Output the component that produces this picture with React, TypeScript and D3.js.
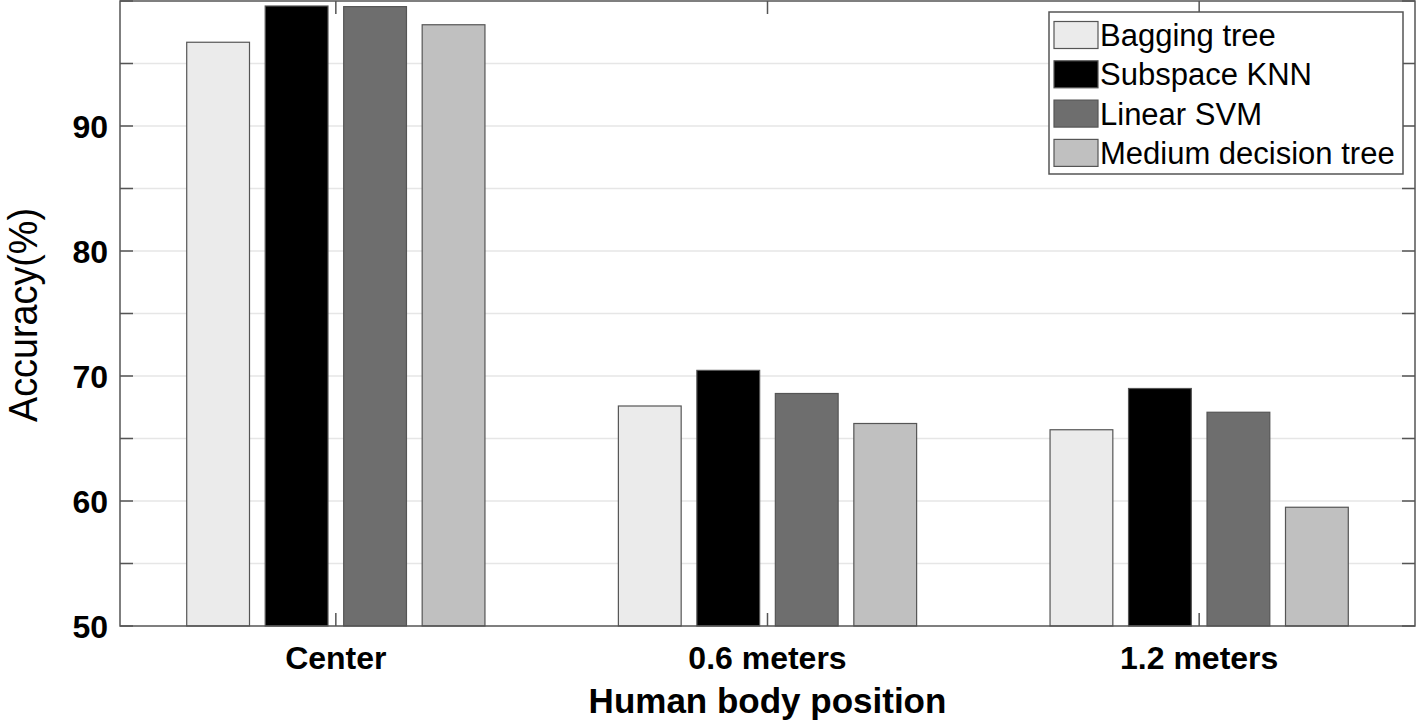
import React, { useRef, useEffect } from 'react';
import * as d3 from 'd3';

const categories = ['Center', '0.6 meters', '1.2 meters'];
const seriesNames = ['Bagging tree', 'Subspace KNN', 'Linear SVM', 'Medium decision tree'];
const seriesColors = ['#ebebeb', '#000000', '#6e6e6e', '#c0c0c0'];
// values per series, one per category
const baggingTree = [96.7, 67.6, 65.7];
const subspaceKnn = [99.6, 70.45, 69.0];
const linearSvm = [99.55, 68.6, 67.1];
const mediumTree = [98.1, 66.2, 59.5];
const yTicks = [50, 55, 60, 65, 70, 75, 80, 85, 90, 95, 100];
const yLabels = [50, 60, 70, 80, 90];

const App: React.FC = () => {
  const ref = useRef<SVGSVGElement>(null);

  useEffect(() => {
    document.body.style.margin = '0';
    const width = 1416;
    const height = 727;
    const left = 120;
    const right = 1415;
    const top = 1;
    const bottom = 626;
    const font = '"Liberation Sans", Arial, sans-serif';
    const axisColor = '#555';

    const svg = d3.select(ref.current);
    svg.selectAll('*').remove();
    svg.attr('width', width).attr('height', height);

    const x0 = d3.scaleBand<string>().domain(categories).range([left, right]).padding(0);
    const gw = x0.bandwidth() * (4 / 5.5);
    const x1 = d3
      .scaleBand<string>()
      .domain(seriesNames)
      .range([0, gw])
      .paddingInner(0.2)
      .paddingOuter(0.1);
    const y = d3.scaleLinear().domain([50, 100]).range([bottom, top]);

    // grid
    svg
      .append('g')
      .selectAll('line')
      .data(yTicks.slice(1, -1))
      .enter()
      .append('line')
      .attr('x1', left)
      .attr('x2', right)
      .attr('y1', (d) => y(d))
      .attr('y2', (d) => y(d))
      .attr('stroke', '#e6e6e6')
      .attr('stroke-width', 1.5);

    const series = [baggingTree, subspaceKnn, linearSvm, mediumTree];
    series.forEach((vals, si) => {
      svg
        .append('g')
        .selectAll('rect')
        .data(vals)
        .enter()
        .append('rect')
        .attr('x', (_, ci) => x0(categories[ci])! + x0.bandwidth() / 2 - gw / 2 + x1(seriesNames[si])!)
        .attr('y', (d) => y(d))
        .attr('width', x1.bandwidth())
        .attr('height', (d) => bottom - y(d))
        .attr('fill', seriesColors[si])
        .attr('stroke', '#555')
        .attr('stroke-width', 1.2);
    });

    // frame
    svg
      .append('rect')
      .attr('x', left)
      .attr('y', top)
      .attr('width', right - left)
      .attr('height', bottom - top)
      .attr('fill', 'none')
      .attr('stroke', axisColor)
      .attr('stroke-width', 1.5);

    // y ticks left and right, x ticks bottom and top
    const ticks = svg.append('g').attr('stroke', axisColor).attr('stroke-width', 1.5);
    yTicks.forEach((t) => {
      ticks.append('line').attr('x1', left).attr('x2', left + 13).attr('y1', y(t)).attr('y2', y(t));
      ticks.append('line').attr('x1', right - 13).attr('x2', right).attr('y1', y(t)).attr('y2', y(t));
    });
    categories.forEach((c) => {
      const cx = x0(c)! + x0.bandwidth() / 2;
      ticks.append('line').attr('x1', cx).attr('x2', cx).attr('y1', bottom).attr('y2', bottom - 13);
      ticks.append('line').attr('x1', cx).attr('x2', cx).attr('y1', top).attr('y2', top + 13);
    });

    svg
      .append('g')
      .selectAll('text')
      .data(yLabels)
      .enter()
      .append('text')
      .attr('x', 108)
      .attr('y', (d) => y(d))
      .attr('dy', '0.36em')
      .attr('text-anchor', 'end')
      .attr('font-family', font)
      .attr('font-weight', 'bold')
      .attr('font-size', 32)
      .text((d) => d);

    svg
      .append('g')
      .selectAll('text')
      .data(categories)
      .enter()
      .append('text')
      .attr('x', (d) => x0(d)! + x0.bandwidth() / 2)
      .attr('y', 669)
      .attr('text-anchor', 'middle')
      .attr('font-family', font)
      .attr('font-weight', 'bold')
      .attr('font-size', 32)
      .text((d) => d);

    svg
      .append('text')
      .attr('x', (left + right) / 2)
      .attr('y', 713)
      .attr('text-anchor', 'middle')
      .attr('font-family', font)
      .attr('font-weight', 'bold')
      .attr('font-size', 35)
      .text('Human body position');

    svg
      .append('text')
      .attr('transform', `translate(37, 315) rotate(-90)`)
      .attr('text-anchor', 'middle')
      .attr('font-family', font)
      .attr('font-size', 41)
      .attr('textLength', 214)
      .attr('lengthAdjust', 'spacingAndGlyphs')
      .text('Accuracy(%)');

    // legend
    const lg = svg.append('g');
    lg.append('rect')
      .attr('x', 1049)
      .attr('y', 12)
      .attr('width', 354)
      .attr('height', 162)
      .attr('fill', '#fff')
      .attr('stroke', axisColor)
      .attr('stroke-width', 1.5);
    seriesNames.forEach((s, i) => {
      const cy = 35 + i * 39.3;
      lg.append('rect')
        .attr('x', 1054)
        .attr('y', cy - 13.5)
        .attr('width', 44)
        .attr('height', 27)
        .attr('fill', seriesColors[i])
        .attr('stroke', '#555')
        .attr('stroke-width', 1.2);
      lg.append('text')
        .attr('x', 1100)
        .attr('y', cy)
        .attr('dy', '0.36em')
        .attr('font-family', font)
        .attr('font-size', 31)
        .text(s);
    });
  }, []);

  return <svg ref={ref} style={{ display: 'block' }} />;
};

export default App;
